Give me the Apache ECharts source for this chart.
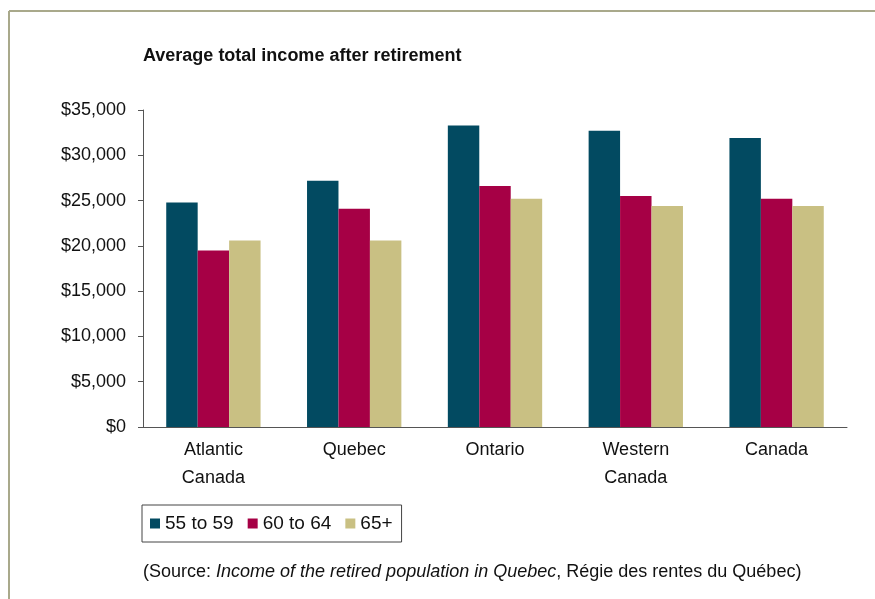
<!DOCTYPE html>
<html>
<head>
<meta charset="utf-8">
<script src="https://cdn.jsdelivr.net/npm/echarts@6/dist/echarts.min.js"></script>
<style>
  html, body { margin: 0; padding: 0; background: #fff; }
  #chart { width: 875px; height: 599px; }
</style>
</head>
<body>
<div id="chart"></div>
<script>
// 数据
const regions = ['Atlantic\nCanada', 'Quebec', 'Ontario', 'Western\nCanada', 'Canada'];
const age55to59 = [24800, 27200, 33300, 32700, 31900];
const age60to64 = [19500, 24100, 26600, 25500, 25200];
const age65plus = [20600, 20600, 25200, 24400, 24400];
const seriesNames = ['55 to 59', '60 to 64', '65+'];
const yTicks = [0, 5000, 10000, 15000, 20000, 25000, 30000, 35000];

const FONT = "'Liberation Sans', Arial, sans-serif";
const colors = ['#024a61', '#a60045', '#c9c083'];

const chart = echarts.init(document.getElementById('chart'));

function money(v) {
    return '$' + v.toLocaleString('en-US');
}

const option = {
    animation: false,
    backgroundColor: '#fff',
    color: colors,
    title: {
        text: 'Average total income after retirement',
        left: 138,
        top: 42,
        textStyle: { fontFamily: FONT, fontSize: 18, fontWeight: 'bold', color: '#111' }
    },
    legend: {
        data: seriesNames,
        left: 142,
        top: 505,
        orient: 'horizontal',
        icon: 'rect',
        itemWidth: 10,
        itemHeight: 10,
        itemGap: 14,
        padding: [9, 9, 9, 8],
        borderColor: '#444',
        borderWidth: 1,
        textStyle: { fontFamily: FONT, fontSize: 19, color: '#111' }
    },
    grid: { left: 143, right: 28, top: 110, bottom: 172 },
    xAxis: {
        type: 'category',
        data: regions,
        axisLine: { lineStyle: { color: '#555', width: 1 } },
        axisTick: { length: 6, lineStyle: { color: '#555' } },
        axisLabel: { fontFamily: FONT, fontSize: 18, color: '#111', margin: 9, lineHeight: 28 }
    },
    yAxis: {
        type: 'value',
        min: yTicks[0],
        max: yTicks[yTicks.length - 1],
        interval: 5000,
        splitLine: { show: false },
        axisLine: { show: true, lineStyle: { color: '#555', width: 1 } },
        axisTick: { show: true, length: 5, lineStyle: { color: '#555' } },
        axisLabel: {
            fontFamily: FONT, fontSize: 18, color: '#111', margin: 17,
            formatter: money
        }
    },
    series: [
        { name: seriesNames[0], type: 'bar', data: age55to59, barGap: '0%', barCategoryGap: '33%' },
        { name: seriesNames[1], type: 'bar', data: age60to64, barGap: '0%', barCategoryGap: '33%' },
        { name: seriesNames[2], type: 'bar', data: age65plus, barGap: '0%', barCategoryGap: '33%' }
    ],
    graphic: [
        // 外框线
        { type: 'line', shape: { x1: 9, y1: 11, x2: 875, y2: 11 }, style: { stroke: '#a9a98b', lineWidth: 2 } },
        { type: 'line', shape: { x1: 9, y1: 11, x2: 9, y2: 599 }, style: { stroke: '#a9a98b', lineWidth: 2 } },
        {
            type: 'text',
            left: 143,
            top: 563,
            style: {
                text: '{a|(Source: }{b|Income of the retired population in Quebec}{a|, Régie des rentes du Québec)}',
                rich: {
                    a: { fontFamily: FONT, fontSize: 18, fill: '#111' },
                    b: { fontFamily: FONT, fontSize: 18, fontStyle: 'italic', fill: '#111' }
                }
            }
        }
    ]
};

chart.setOption(option);
</script>
</body>
</html>
